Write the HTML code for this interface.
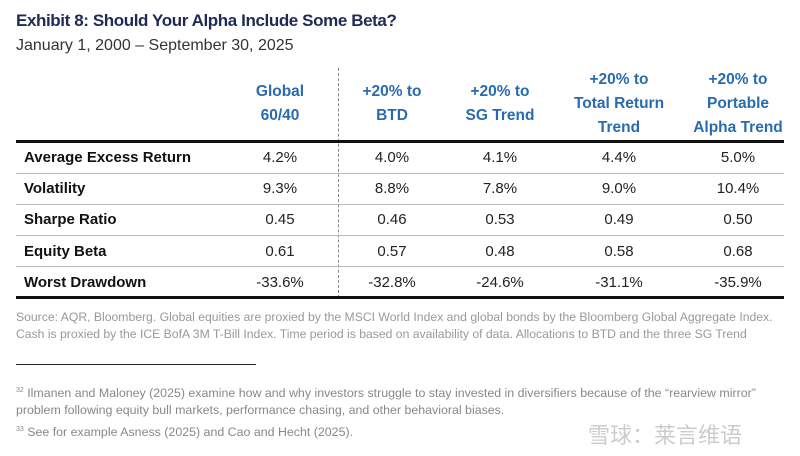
<!DOCTYPE html>
<html><head><meta charset="utf-8"><style>
body{margin:0;width:800px;height:456px;background:#fff;font-family:"Liberation Sans","Noto Sans CJK SC",sans-serif;position:relative;overflow:hidden}
.a{position:absolute;white-space:nowrap}
.t{left:16px;top:11px;font-size:17px;font-weight:bold;color:#1f2a55;letter-spacing:-0.4px}
.s{left:16px;top:37px;font-size:16px;color:#333}
.h{font-size:15.5px;font-weight:bold;color:#2a6bb0;text-align:center;line-height:24px;transform:translateX(-50%)}
.rl{left:24px;font-size:15px;font-weight:bold;color:#111}
.v{font-size:15px;color:#222;transform:translateX(-50%)}
.ln{position:absolute;left:16px;width:768px;height:1px;background:#bbb}
.src{left:16px;font-size:12.2px;color:#999}
.fn{left:16px;font-size:12.4px;color:#888}
</style></head><body>
<div class="a t">Exhibit 8: Should Your Alpha Include Some Beta?</div>
<div class="a s">January 1, 2000 – September 30, 2025</div>
<div class="a" style="left:338px;top:68px;height:230px;border-left:1px dashed #888"></div>
<div class="a h" style="left:280px;top:80px">Global<br>60/40</div>
<div class="a h" style="left:392px;top:80px">+20% to<br>BTD</div>
<div class="a h" style="left:500px;top:80px">+20% to<br>SG Trend</div>
<div class="a h" style="left:619px;top:68px">+20% to<br>Total Return<br>Trend</div>
<div class="a h" style="left:738px;top:68px">+20% to<br>Portable<br>Alpha Trend</div>
<div class="ln" style="top:140px;height:3px;background:#111"></div>
<div id="rows"></div>
<div class="ln" style="top:296px;height:3px;background:#111"></div>
<div class="a src" style="top:310px">Source: AQR, Bloomberg. Global equities are proxied by the MSCI World Index and global bonds by the Bloomberg Global Aggregate Index.</div>
<div class="a src" style="top:327px">Cash is proxied by the ICE BofA 3M T-Bill Index. Time period is based on availability of data. Allocations to BTD and the three SG Trend</div>
<div class="a" style="left:16px;top:364px;width:240px;height:1px;background:#222"></div>
<div class="a fn" style="top:386px"><sup style="font-size:7px">32</sup> Ilmanen and Maloney (2025) examine how and why investors struggle to stay invested in diversifiers because of the “rearview mirror”</div>
<div class="a fn" style="top:403px">problem following equity bull markets, performance chasing, and other behavioral biases.</div>
<div class="a fn" style="top:425px"><sup style="font-size:7px">33</sup> See for example Asness (2025) and Cao and Hecht (2025).</div>
<div class="a" style="left:588px;top:418px;font-size:22px;color:#ccc">雪球：莱言维语</div>
<script>
const rowLabels=["Average Excess Return","Volatility","Sharpe Ratio","Equity Beta","Worst Drawdown"];
const colGlobal=["4.2%","9.3%","0.45","0.61","-33.6%"];
const colBTD=["4.0%","8.8%","0.46","0.57","-32.8%"];
const colSG=["4.1%","7.8%","0.53","0.48","-24.6%"];
const colTRT=["4.4%","9.0%","0.49","0.58","-31.1%"];
const colPAT=["5.0%","10.4%","0.50","0.68","-35.9%"];
const cols=[colGlobal,colBTD,colSG,colTRT,colPAT];
const cx=[280,392,500,619,738];
const R=document.getElementById('rows');
rowLabels.forEach((lab,i)=>{
  const y=149+i*31.2;
  const l=document.createElement('div');
  l.className='a rl';l.style.top=y+'px';l.textContent=lab;
  
  
  R.appendChild(l);
  cols.forEach((c,j)=>{
    const d=document.createElement('div');
    d.className='a v';d.style.top=y+'px';d.style.left=cx[j]+'px';d.textContent=c[i];
    
    
    R.appendChild(d);
  });
  if(i<rowLabels.length-1){
    const s=document.createElement('div');
    s.className='ln';s.style.top=(y+23.5)+'px';
    
    
    R.appendChild(s);
  }
});
</script>
</body></html>
